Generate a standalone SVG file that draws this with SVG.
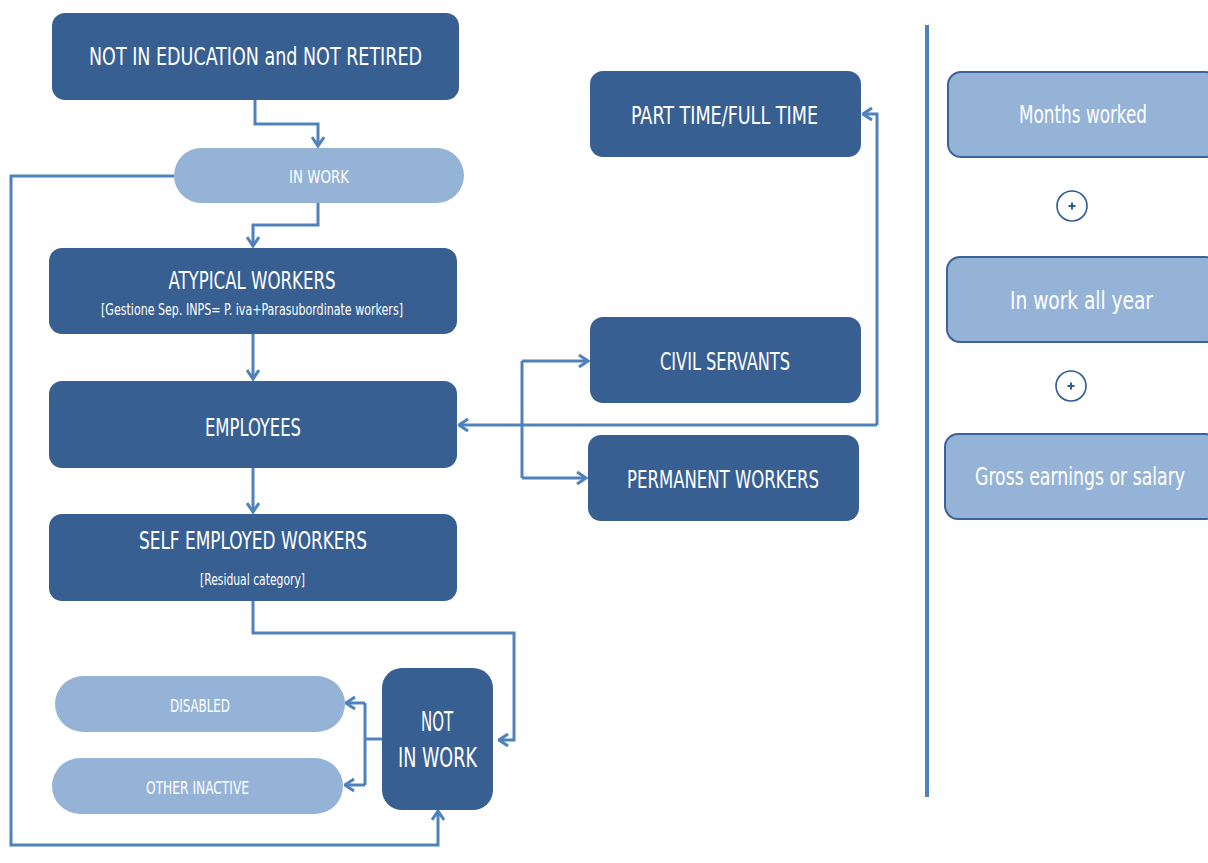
<svg xmlns="http://www.w3.org/2000/svg" width="1208" height="863" viewBox="0 0 1208 863">
<style>
.dark{fill:#375F92;}
.light{fill:#95B3D7;}
.lightb{fill:#95B3D7;stroke:#3A639A;stroke-width:2;}
.t{font-family:"Liberation Sans Narrow","DejaVu Sans Condensed","Liberation Sans",sans-serif;fill:#FFFFFF;text-anchor:middle;}
.c{fill:none;stroke:#4F81BD;stroke-width:3;stroke-linejoin:miter;}
.ca{fill:none;stroke:#4F81BD;stroke-width:3;marker-end:url(#arr);}
.plus{fill:#FFFFFF;stroke:#2F5A92;stroke-width:1.6;}
</style>
<defs>
<marker id="arr" viewBox="0 0 12 14" refX="10.5" refY="7" markerWidth="12" markerHeight="14" markerUnits="userSpaceOnUse" orient="auto">
<path d="M1.5,1 L10.5,7 L1.5,13" fill="none" stroke="#4F81BD" stroke-width="3"/>
</marker>
</defs>
<rect width="1208" height="863" fill="#FFFFFF"/>

<g id="connectors">
<path class="ca" d="M255,100 L255,124 L318,124 L318,146"/>
<path class="ca" d="M318,203 L318,225 L253,225 L253,246"/>
<path class="ca" d="M174,176 L11,176 L11,845 L438,845 L438,811"/>
<path class="ca" d="M253,334 L253,379"/>
<path class="ca" d="M253,468 L253,512"/>
<path class="ca" d="M253,601 L253,633 L514,633 L514,740 L499,740"/>
<path class="c" d="M382,739 L365,739"/>
<path class="c" d="M365,703 L365,785"/>
<path class="ca" d="M365,703 L346,703"/>
<path class="ca" d="M365,785 L345,785"/>
<path class="ca" d="M877,425 L459,425"/>
<path class="ca" d="M877,425 L877,114 L863,114"/>
<path class="c" d="M522,361 L522,478"/>
<path class="ca" d="M522,361 L588,361"/>
<path class="ca" d="M522,478 L586,478"/>
</g>

<line x1="927" y1="25" x2="927" y2="797" stroke="#4F81BD" stroke-width="4"/>

<g id="not-in-education">
<rect class="dark" x="52" y="13" width="407" height="87" rx="13"/>
<text class="t" x="255.5" y="65" font-size="25" textLength="333" lengthAdjust="spacingAndGlyphs">NOT IN EDUCATION and NOT RETIRED</text>
</g>

<g id="in-work">
<rect class="light" x="174" y="148" width="290" height="55" rx="27.5"/>
<text class="t" x="319" y="183" font-size="17" textLength="60" lengthAdjust="spacingAndGlyphs">IN WORK</text>
</g>

<g id="atypical">
<rect class="dark" x="49" y="248" width="408" height="86" rx="13"/>
<text class="t" x="252" y="289" font-size="25" textLength="167" lengthAdjust="spacingAndGlyphs">ATYPICAL WORKERS</text>
<text class="t" x="252" y="315" font-size="16" textLength="302" lengthAdjust="spacingAndGlyphs">[Gestione Sep. INPS= P. iva+Parasubordinate workers]</text>
</g>

<g id="employees">
<rect class="dark" x="49" y="381" width="408" height="87" rx="13"/>
<text class="t" x="253" y="436" font-size="25" textLength="96" lengthAdjust="spacingAndGlyphs">EMPLOYEES</text>
</g>

<g id="self-employed">
<rect class="dark" x="49" y="514" width="408" height="87" rx="13"/>
<text class="t" x="253" y="549" font-size="25" textLength="228" lengthAdjust="spacingAndGlyphs">SELF EMPLOYED WORKERS</text>
<text class="t" x="252.5" y="585" font-size="16" textLength="105" lengthAdjust="spacingAndGlyphs">[Residual category]</text>
</g>

<g id="not-in-work">
<rect class="dark" x="382" y="668" width="111" height="142" rx="20"/>
<text class="t" x="437" y="731" font-size="26" textLength="32" lengthAdjust="spacingAndGlyphs">NOT</text>
<text class="t" x="437.5" y="767" font-size="26" textLength="79" lengthAdjust="spacingAndGlyphs">IN WORK</text>
</g>

<g id="disabled">
<rect class="light" x="55" y="676" width="290" height="56" rx="28"/>
<text class="t" x="200" y="712" font-size="17" textLength="60" lengthAdjust="spacingAndGlyphs">DISABLED</text>
</g>

<g id="other-inactive">
<rect class="light" x="52" y="758" width="291" height="56" rx="28"/>
<text class="t" x="197.5" y="794" font-size="17" textLength="103" lengthAdjust="spacingAndGlyphs">OTHER INACTIVE</text>
</g>

<g id="part-time">
<rect class="dark" x="590" y="71" width="271" height="86" rx="13"/>
<text class="t" x="724.5" y="124" font-size="25" textLength="187" lengthAdjust="spacingAndGlyphs">PART TIME/FULL TIME</text>
</g>

<g id="civil-servants">
<rect class="dark" x="590" y="317" width="271" height="86" rx="13"/>
<text class="t" x="725" y="370" font-size="25" textLength="130" lengthAdjust="spacingAndGlyphs">CIVIL SERVANTS</text>
</g>

<g id="permanent-workers">
<rect class="dark" x="588" y="435" width="271" height="86" rx="13"/>
<text class="t" x="723" y="488" font-size="25" textLength="192" lengthAdjust="spacingAndGlyphs">PERMANENT WORKERS</text>
</g>

<g id="months-worked">
<rect class="lightb" x="948" y="72" width="270" height="85" rx="13"/>
<text class="t" x="1083" y="123" font-size="25" textLength="128" lengthAdjust="spacingAndGlyphs">Months worked</text>
</g>

<g id="plus1">
<circle class="plus" cx="1072" cy="206" r="15"/>
<path d="M1068.5,206 H1075.5 M1072,202.5 V209.5" stroke="#2F5A92" stroke-width="2"/>
</g>

<g id="in-work-all-year">
<rect class="lightb" x="947" y="257" width="271" height="85" rx="13"/>
<text class="t" x="1081.5" y="309" font-size="25" textLength="143" lengthAdjust="spacingAndGlyphs">In work all year</text>
</g>

<g id="plus2">
<circle class="plus" cx="1071" cy="386" r="15"/>
<path d="M1067.5,386 H1074.5 M1071,382.5 V389.5" stroke="#2F5A92" stroke-width="2"/>
</g>

<g id="gross-earnings">
<rect class="lightb" x="945" y="434" width="273" height="85" rx="13"/>
<text class="t" x="1080" y="485" font-size="25" textLength="210" lengthAdjust="spacingAndGlyphs">Gross earnings or salary</text>
</g>
</svg>
